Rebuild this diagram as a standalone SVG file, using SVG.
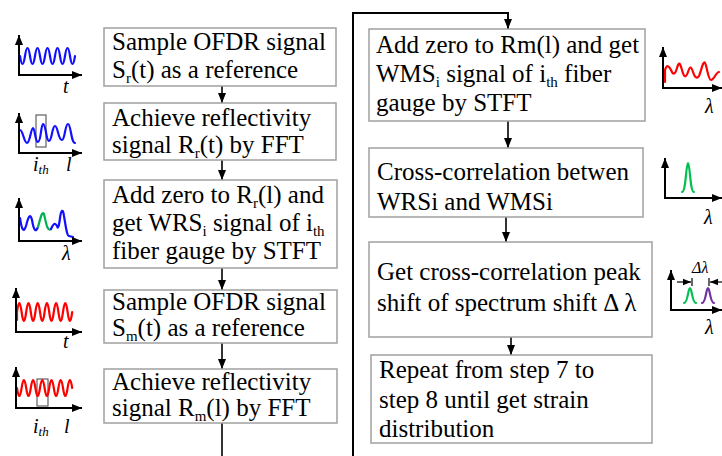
<svg xmlns="http://www.w3.org/2000/svg" width="722" height="456" viewBox="0 0 722 456">
<defs>
<marker id="ah" markerUnits="userSpaceOnUse" markerWidth="10" markerHeight="10" viewBox="0 0 10 10" refX="10" refY="5" orient="auto">
<path d="M0,1 L10,5 L0,9 Z" fill="#000"/>
</marker>
<marker id="sa" markerUnits="userSpaceOnUse" markerWidth="8" markerHeight="8" viewBox="0 0 10 10" refX="10" refY="5" orient="auto">
<path d="M0,1 L10,5 L0,9 Z" fill="#000"/>
</marker>
</defs>
<rect width="722" height="456" fill="#fff"/>

<g id="connectors" fill="none" stroke="#000" stroke-width="1.6">
<path marker-end="url(#ah)" d="M222,86 V103"/>
<path marker-end="url(#ah)" d="M222,160 V180"/>
<path marker-end="url(#ah)" d="M222,268 V290"/>
<path marker-end="url(#ah)" d="M222,343 V369"/>
<path d="M222,423 V456"/>
<path marker-end="url(#ah)" d="M353,456 V13 H508 V29" stroke-width="2"/>
<path marker-end="url(#ah)" d="M508,121 V148"/>
<path marker-end="url(#ah)" d="M506,217 V242"/>
<path marker-end="url(#ah)" d="M511,337 V355"/>
</g>

<g id="n1">
<rect fill="#fff" stroke="#a0a0a0" stroke-width="1.5" x="104" y="28" width="232" height="58"/>
<text font-family="Liberation Serif" font-size="25" x="112" y="50">Sample OFDR signal</text>
<text font-family="Liberation Serif" font-size="25" x="112" y="78">S<tspan font-size="15" dy="5">r</tspan><tspan dy="-5">(t) as a reference</tspan></text>
</g>
<g id="n2">
<rect fill="#fff" stroke="#a0a0a0" stroke-width="1.5" x="104" y="103" width="232" height="57"/>
<text font-family="Liberation Serif" font-size="25" x="112" y="126">Achieve reflectivity</text>
<text font-family="Liberation Serif" font-size="25" x="112" y="153">signal R<tspan font-size="15" dy="5">r</tspan><tspan dy="-5">(t) by FFT</tspan></text>
</g>
<g id="n3">
<rect fill="#fff" stroke="#a0a0a0" stroke-width="1.5" x="104" y="180" width="233" height="88"/>
<text font-family="Liberation Serif" font-size="25" x="112" y="203">Add zero to R<tspan font-size="15" dy="5">r</tspan><tspan dy="-5">(l) and</tspan></text>
<text font-family="Liberation Serif" font-size="25" x="112" y="231">get WRS<tspan font-size="15" dy="5">i</tspan><tspan dy="-5"> signal of i</tspan><tspan font-size="15" dy="5">th</tspan></text>
<text font-family="Liberation Serif" font-size="25" x="112" y="259">fiber gauge by STFT</text>
</g>
<g id="n4">
<rect fill="#fff" stroke="#a0a0a0" stroke-width="1.5" x="104" y="290" width="233" height="53"/>
<text font-family="Liberation Serif" font-size="25" x="112" y="310">Sample OFDR signal</text>
<text font-family="Liberation Serif" font-size="25" x="112" y="336">S<tspan font-size="15" dy="5">m</tspan><tspan dy="-5">(t) as a reference</tspan></text>
</g>
<g id="n5">
<rect fill="#fff" stroke="#a0a0a0" stroke-width="1.5" x="104" y="369" width="233" height="54"/>
<text font-family="Liberation Serif" font-size="25" x="112" y="390">Achieve reflectivity</text>
<text font-family="Liberation Serif" font-size="25" x="112" y="416">signal R<tspan font-size="15" dy="5">m</tspan><tspan dy="-5">(l) by FFT</tspan></text>
</g>

<g id="n6">
<rect fill="#fff" stroke="#a0a0a0" stroke-width="1.5" x="369" y="29" width="276" height="92"/>
<text font-family="Liberation Serif" font-size="25" x="376" y="53">Add zero to Rm(l) and get</text>
<text font-family="Liberation Serif" font-size="25" x="376" y="82">WMS<tspan font-size="15" dy="5">i</tspan><tspan dy="-5"> signal of i</tspan><tspan font-size="15" dy="5">th</tspan><tspan dy="-5"> fiber</tspan></text>
<text font-family="Liberation Serif" font-size="25" x="376" y="111">gauge by STFT</text>
</g>
<g id="n7">
<rect fill="#fff" stroke="#a0a0a0" stroke-width="1.5" x="369" y="148" width="274" height="69"/>
<text font-family="Liberation Serif" font-size="25" x="377" y="180">Cross-correlation betwen</text>
<text font-family="Liberation Serif" font-size="25" x="377" y="210">WRSi and WMSi</text>
</g>
<g id="n8">
<rect fill="#fff" stroke="#a0a0a0" stroke-width="1.5" x="369" y="242" width="283" height="95"/>
<text font-family="Liberation Serif" font-size="25" x="377" y="280">Get cross-correlation peak</text>
<text font-family="Liberation Serif" font-size="25" x="377" y="311">shift of spectrum shift Δ λ</text>
</g>
<g id="n9">
<rect fill="#fff" stroke="#a0a0a0" stroke-width="1.5" x="371" y="355" width="281" height="88"/>
<text font-family="Liberation Serif" font-size="25" x="379" y="378">Repeat from step 7 to</text>
<text font-family="Liberation Serif" font-size="25" x="379" y="408">step 8 until get strain</text>
<text font-family="Liberation Serif" font-size="25" x="379" y="437">distribution</text>
</g>

<g id="icon1">
<path fill="none" stroke="#1010ff" stroke-width="2.2" stroke-linecap="round" d="M20,56 q2.5,16 5,0 t5,0 t5,0 t5,0 t5,0 t5,0 t5,0 t5,0 t5,0 t5,0 t5,0"/>
<path fill="none" stroke="#000" stroke-width="2" marker-end="url(#ah)" d="M19,75 V35"/>
<path fill="none" stroke="#000" stroke-width="2" marker-end="url(#ah)" d="M18,75 H82"/>
<text font-family="Liberation Serif" font-style="italic" font-size="20" x="63" y="93">t</text>
</g>
<g id="icon2">
<rect fill="none" stroke="#606060" stroke-width="1.2" x="36" y="115" width="10" height="32"/>
<path fill="none" stroke="#1010ff" stroke-width="2.2" stroke-linecap="round" d="M20,130 C23,130 24,143 27,143 C30,143 31,128 33,128 C35,128 35,142 38,142 C41,142 41,124 43,124 C46,124 46,141 49,141 C52,141 52,126 55,126 C58,126 58,140 62,140 C65,140 65,124 68,124 C71,124 71,143 75,143"/>
<path fill="none" stroke="#000" stroke-width="2" marker-end="url(#ah)" d="M19,153 V113"/>
<path fill="none" stroke="#000" stroke-width="2" marker-end="url(#ah)" d="M18,153 H82"/>
<text font-family="Liberation Serif" font-style="italic" font-size="20" x="33" y="171">i<tspan font-size="13" dy="3">th</tspan></text>
<text font-family="Liberation Serif" font-style="italic" font-size="20" x="66" y="171">l</text>
</g>
<g id="icon3">
<path fill="none" stroke="#1010ff" stroke-width="2.2" stroke-linecap="round" d="M20,218 C22,232 24,232 26,226 C28,218 30,212 32,220 C34,232 36,232 38,227"/>
<path fill="none" stroke="#00b050" stroke-width="2.2" stroke-linecap="round" d="M38,227 C40,220 42,210 44,214 C46,222 47,232 51,229"/>
<path fill="none" stroke="#1010ff" stroke-width="2.2" stroke-linecap="round" d="M51,229 C53,224 55,222 57,226 C58,230 59,226 60,218 C61,210 63,208 64,216 C66,228 67,236 69,236 L73,237"/>
<path fill="none" stroke="#000" stroke-width="2" marker-end="url(#ah)" d="M19,241 V198"/>
<path fill="none" stroke="#000" stroke-width="2" marker-end="url(#ah)" d="M18,241 H82"/>
<text font-family="Liberation Serif" font-style="italic" font-size="20" x="62" y="260">λ</text>
</g>
<g id="icon4">
<path fill="none" stroke="#ff0000" stroke-width="2.2" stroke-linecap="round" d="M17,320 L17,312 q2.3,-18 4.6,0 t4.6,0 t4.6,0 t4.6,0 t4.6,0 t4.6,0 t4.6,0 t4.6,0 t4.6,0 t4.6,0 t4.6,0 t4.6,0"/>
<path fill="none" stroke="#000" stroke-width="2" marker-end="url(#ah)" d="M16,332 V288"/>
<path fill="none" stroke="#000" stroke-width="2" marker-end="url(#ah)" d="M15,332 H82"/>
<text font-family="Liberation Serif" font-style="italic" font-size="20" x="63" y="348">t</text>
</g>
<g id="icon5">
<rect fill="none" stroke="#606060" stroke-width="1.2" x="37" y="379" width="11" height="27"/>
<path fill="none" stroke="#ff0000" stroke-width="2.2" stroke-linecap="round" d="M17,388 q2.3,16 4.6,0 t4.6,0 t4.6,0 t4.6,0 t4.6,0 t4.6,0 t4.6,0 t4.6,0 t4.6,0 t4.6,0 t4.6,0 t4.6,0"/>
<path fill="none" stroke="#000" stroke-width="2" marker-end="url(#ah)" d="M16,408 V367"/>
<path fill="none" stroke="#000" stroke-width="2" marker-end="url(#ah)" d="M15,408 H82"/>
<text font-family="Liberation Serif" font-style="italic" font-size="20" x="33" y="433">i<tspan font-size="13" dy="3">th</tspan></text>
<text font-family="Liberation Serif" font-style="italic" font-size="20" x="64" y="433">l</text>
</g>
<g id="icon6">
<path fill="none" stroke="#ff0000" stroke-width="2.2" stroke-linecap="round" d="M665,82 V70 C667,64 669,66 671,70 C673,75 675,75 677,68 C679,61 680,63 682,70 C684,78 686,78 688,72 C690,66 691,66 693,72 C695,78 697,79 699,76 C701,72 703,60 705,63 C707,66 708,80 711,80 C714,80 716,72 719,72"/>
<path fill="none" stroke="#000" stroke-width="2" marker-end="url(#ah)" d="M663,88 V47"/>
<path fill="none" stroke="#000" stroke-width="2" marker-end="url(#ah)" d="M662,88 H722"/>
<text font-family="Liberation Serif" font-style="italic" font-size="20" x="705" y="113">λ</text>
</g>
<g id="icon7">
<path fill="none" stroke="#00c050" stroke-width="2.2" stroke-linecap="round" d="M682,192 C686,192 686,163 688,163 C690,163 690,192 694,192"/>
<path fill="none" stroke="#000" stroke-width="2" marker-end="url(#ah)" d="M665,198 V158"/>
<path fill="none" stroke="#000" stroke-width="2" marker-end="url(#ah)" d="M664,198 H722"/>
<text font-family="Liberation Serif" font-style="italic" font-size="20" x="704" y="224">λ</text>
</g>
<g id="icon8">
<path fill="none" stroke="#00c050" stroke-width="2.2" stroke-linecap="round" d="M684,303 C688,303 688,288 690,288 C692,288 692,303 696,303"/>
<path fill="none" stroke="#7030a0" stroke-width="2.2" stroke-linecap="round" d="M702,303 C706,303 706,288 708,288 C710,288 710,303 714,303"/>
<path d="M692,278 V286 M709,278 V286" stroke="#000" stroke-width="1.2"/>
<path d="M677,282 H691" stroke="#000" stroke-width="1.2" marker-end="url(#sa)"/>
<path d="M722,282 H710" stroke="#000" stroke-width="1.2" marker-end="url(#sa)"/>
<text font-family="Liberation Serif" font-style="italic" font-size="16" x="692" y="273">Δλ</text>
<path fill="none" stroke="#000" stroke-width="2" marker-end="url(#ah)" d="M671,310 V270"/>
<path fill="none" stroke="#000" stroke-width="2" marker-end="url(#ah)" d="M670,310 H722"/>
<text font-family="Liberation Serif" font-style="italic" font-size="20" x="705" y="334">λ</text>
</g>
</svg>
